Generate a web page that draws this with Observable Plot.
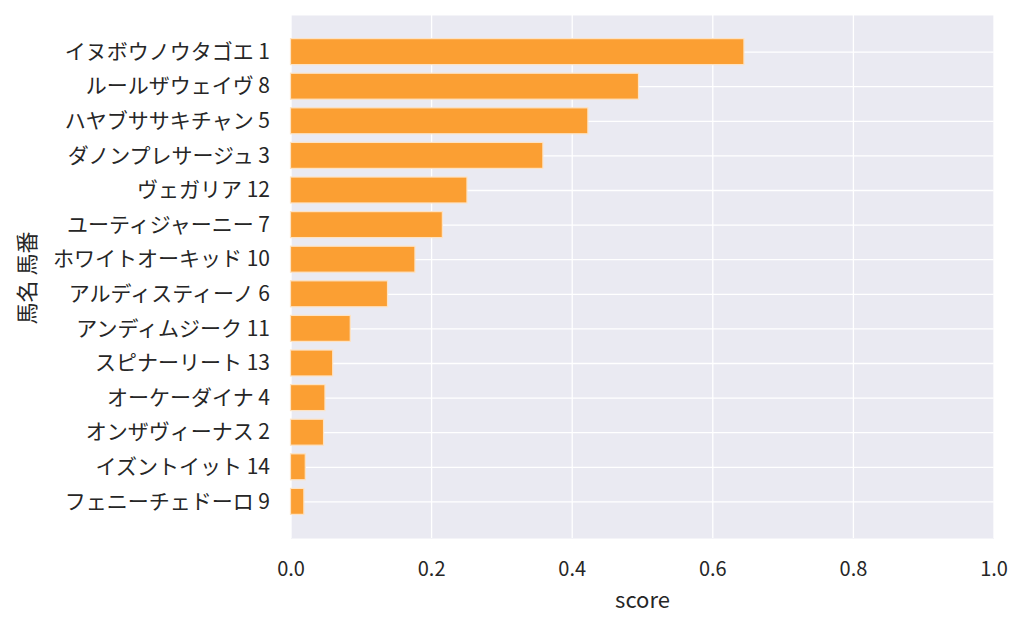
<!DOCTYPE html>
<html>
<head>
<meta charset="utf-8">
<script src="https://cdn.jsdelivr.net/npm/d3@7"></script>
<script src="https://cdn.jsdelivr.net/npm/@observablehq/plot@0.6"></script>
<style>
  html, body { margin: 0; padding: 0; background: #ffffff; }
  #chart svg { display: block; }
</style>
</head>
<body>
<div id="chart"></div>
<script>
const horses = [
  "イヌボウノウタゴエ 1",
  "ルールザウェイヴ 8",
  "ハヤブササキチャン 5",
  "ダノンプレサージュ 3",
  "ヴェガリア 12",
  "ユーティジャーニー 7",
  "ホワイトオーキッド 10",
  "アルディスティーノ 6",
  "アンディムジーク 11",
  "スピナーリート 13",
  "オーケーダイナ 4",
  "オンザヴィーナス 2",
  "イズントイット 14",
  "フェニーチェドーロ 9"
];
const scores = [0.645, 0.495, 0.423, 0.359, 0.251, 0.216, 0.177, 0.138, 0.085, 0.060, 0.049, 0.047, 0.021, 0.019];
const xTicks = [0, 0.2, 0.4, 0.6, 0.8, 1.0];
const xLabel = "score";
const yLabel = "馬名 馬番";

const data = horses.map((h, i) => ({horse: h, score: scores[i]}));

const font = "'Noto Sans CJK JP', 'Noto Sans', sans-serif";

const chart = Plot.plot({
  width: 1024,
  height: 627,
  marginLeft: 290.5,
  marginRight: 30.5,
  marginTop: 15,
  marginBottom: 89,
  style: {fontFamily: font, background: "#ffffff", color: "#262626"},
  x: {domain: [0, 1], ticks: xTicks},
  y: {domain: horses, paddingInner: 0.25, paddingOuter: 0.683, round: false},
  marks: [
    Plot.frame({fill: "#eaeaf2", stroke: null}),
    Plot.gridX(xTicks, {stroke: "#ffffff", strokeOpacity: 1, strokeWidth: 1.3}),
    Plot.gridY(horses, {stroke: "#ffffff", strokeOpacity: 1, strokeWidth: 1.3}),
    Plot.barX(data, {x: "score", y: "horse", fill: "#fb9f33", stroke: "#fde3c4", strokeWidth: 1.2}),
    Plot.axisX(xTicks, {tickSize: 0, tickPadding: 23, fontSize: 20, label: null, tickFormat: d3.format(".1f")}),
    Plot.axisY({tickSize: 0, tickPadding: 21, fontSize: 21, label: null}),
    Plot.text([xLabel], {frameAnchor: "bottom", dy: 62, fontSize: 22, lineAnchor: "middle", textAnchor: "middle", text: d => d, fill: "#262626"}),
    Plot.text([yLabel], {frameAnchor: "left", dx: -263, dy: 1, rotate: -90, fontSize: 22, lineAnchor: "middle", textAnchor: "middle", text: d => d, fill: "#262626"})
  ]
});
document.getElementById("chart").appendChild(chart);
</script>
</body>
</html>
